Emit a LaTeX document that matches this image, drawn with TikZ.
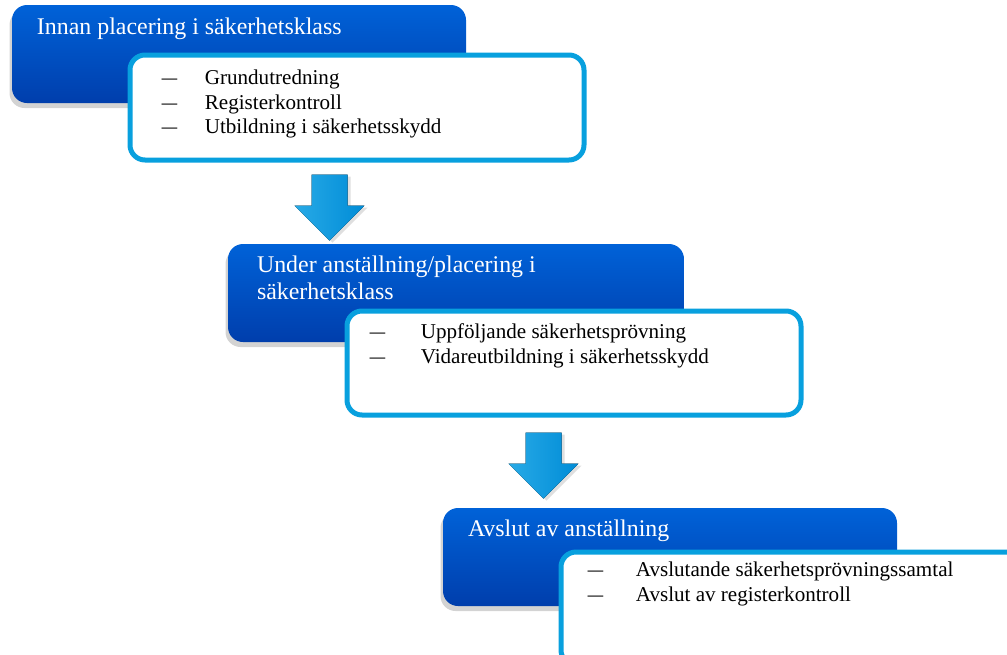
\documentclass[tikz,border=0pt]{standalone}
\usepackage{fontspec}
\setmainfont{Liberation Serif}
\usepackage{array}
\usepackage{graphicx}
\usetikzlibrary{calc, positioning, fit, shadows}

\definecolor{phasetop}{RGB}{0,98,216}
\definecolor{phasebottom}{RGB}{0,62,172}
\definecolor{framecyan}{RGB}{8,160,222}
\definecolor{arrowlight}{RGB}{40,170,230}
\definecolor{arrowdark}{RGB}{0,140,215}

\newcommand{\dashmark}{\scalebox{1.45}[1]{–}}

\begin{document}
\begin{tikzpicture}[x=0.2mm,y=-0.2mm,
    phase/.style={rounded corners=3mm,top color=phasetop,bottom color=phasebottom,
                  inner sep=0pt,drop shadow={opacity=0.35,shadow xshift=-0.5mm,shadow yshift=-1mm}},
    list/.style={rounded corners=3mm,fill=white,draw=framecyan,line width=1mm,inner sep=0pt},
    title/.style={anchor=base west,inner sep=0pt,text=white,
                  font=\fontsize{13.6}{15.5}\selectfont},
    item/.style={anchor=base west,inner sep=0pt,font=\fontsize{12}{14}\selectfont},
    down/.style={left color=arrowlight,right color=arrowdark,
                 drop shadow={opacity=0.25,shadow xshift=0.6mm,shadow yshift=-0.4mm}}]

 \useasboundingbox (0,0) rectangle (1007,654);
 \clip (0,0) rectangle (1007,654);

 % first phase
 \node[phase, fit={(12,5) (466,103)}] (p1) {};
 \node[title] (t1) at ($(p1.north west)+(25,30)$) {Innan placering i säkerhetsklass};
 \node[list, fit={(130,55) (584,160)}] (l1) {};
 \node[item] (i1) at ($(l1.north west)+(34,32)$) {\begin{tabular}[t]{@{}p{8.6mm}@{}l@{}}
   \dashmark & Grundutredning\\
   \dashmark & Registerkontroll\\
   \dashmark & Utbildning i säkerhetsskydd
 \end{tabular}};

 \coordinate (a1) at ($(l1.south west)+(202,12)$);
 \fill[down] (a1) ++(-18,0) -- ++(36,0) -- ++(0,31) -- ++(17,0) -- ++(-35,35)
   -- ++(-35,-35) -- ++(17,0) -- cycle;

 % second phase
 \node[phase, fit={(228,244) (684,342)}] (p2) {};
 \node[title] (t2) at ($(p2.north west)+(29,29)$) {\begin{tabular}[t]{@{}l@{}}
   Under anställning/placering i\\
   säkerhetsklass
 \end{tabular}};
 \node[list, fit={(347,311) (801,415)}] (l2) {};
 \node[item] (i2) at ($(l2.north west)+(25,30)$) {\begin{tabular}[t]{@{}p{10.2mm}@{}l@{}}
   \dashmark & Uppföljande säkerhetsprövning\\
   \dashmark & Vidareutbildning i säkerhetsskydd
 \end{tabular}};

 \coordinate (a2) at ($(l2.south west)+(199,15)$);
 \fill[down] (a2) ++(-18,0) -- ++(36,0) -- ++(0,31) -- ++(17,0) -- ++(-35,35)
   -- ++(-35,-35) -- ++(17,0) -- cycle;

 % third phase
 \node[phase, fit={(443,508) (897,606)}] (p3) {};
 \node[title] (t3) at ($(p3.north west)+(25,29)$) {Avslut av anställning};
 \node[list, fit={(561,552) (1020,665)}] (l3) {};
 \node[item] (i3) at ($(l3.north west)+(29,27)$) {\begin{tabular}[t]{@{}p{9.6mm}@{}l@{}}
   \dashmark & Avslutande säkerhetsprövningssamtal\\
   \dashmark & Avslut av registerkontroll
 \end{tabular}};

\end{tikzpicture}
\end{document}
